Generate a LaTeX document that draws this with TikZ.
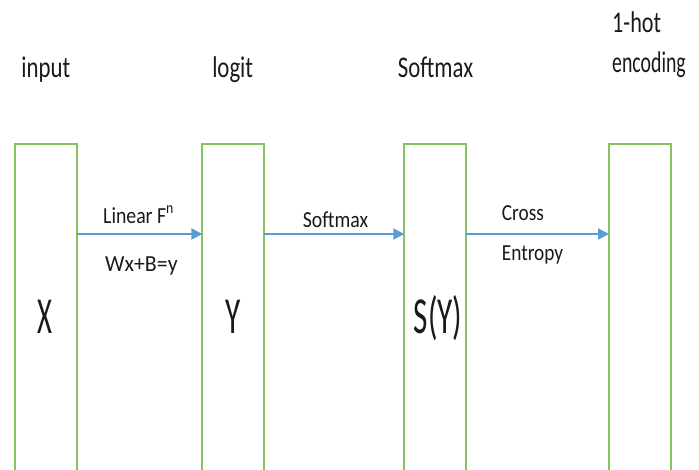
\documentclass[tikz,border=0pt]{standalone}
\usepackage{fontspec}
\setmainfont{Carlito}
\usetikzlibrary{arrows.meta}
\definecolor{boxgreen}{HTML}{84C262}
\definecolor{flowblue}{HTML}{5B9BD5}
\definecolor{ink}{HTML}{1A1A1A}
\newcommand\narrow[2]{\scalebox{#1}[1]{#2}}
\tikzset{
  stage/.style={draw=boxgreen, line width=2pt, minimum width=62pt,
    minimum height=340pt, inner sep=0pt, outer sep=0pt},
  flow/.style={draw=flowblue, line width=2pt,
    -{Triangle[length=11pt,width=11pt]}},
  head/.style={anchor=base, inner sep=0pt, text=ink,
    font=\fontsize{30}{36}\selectfont},
  headl/.style={head, anchor=base west},
  edgetxt/.style={anchor=base west, inner sep=0pt, text=ink,
    font=\fontsize{23}{28}\selectfont},
  symb/.style={anchor=base, inner sep=0pt, text=ink,
    font=\fontsize{52}{60}\selectfont},
}
\begin{document}
\begin{tikzpicture}[x=1pt, y=-1pt]
  \useasboundingbox (0,0) rectangle (699,469);
  \clip (0,0) rectangle (699,469);

  % stage columns (open towards the bottom edge)
  \node[stage] (b1) at (45.7,314) {};
  \node[stage] (b2) at (233.4,314) {};
  \node[stage] (b3) at (435.3,314) {};
  \node[stage] (b4) at (640,314) {};

  % flow arrows
  \coordinate (row) at (0,234);
  \draw[flow] (b1.east |- row) -- (b2.west |- row);
  \draw[flow] (b2.east |- row) -- (b3.west |- row);
  \draw[flow] (b3.east |- row) -- (b4.west |- row);

  % column headings
  \node[head] (h1) at (45.8,77) {\narrow{0.76}{input}};
  \node[head] (h2) at (232.7,77) {\narrow{0.76}{logit}};
  \node[head] (h3) at (435.5,77) {\narrow{0.76}{Softmax}};
  \node[headl] (h4a) at (612,32) {\narrow{0.74}{1-hot}};
  \node[headl] (h4b) at (612,72) {\narrow{0.66}{encoding}};

  % arrow labels
  \node[edgetxt] (l1) at (103,223) {\narrow{0.86}{Linear F\textsuperscript{n}}};
  \node[edgetxt] (l2) at (105,271.5) {\narrow{0.95}{Wx+B=y}};
  \node[edgetxt] (l3) at (302.7,227) {\narrow{0.86}{Softmax}};
  \node[edgetxt] (l4) at (501.7,220.7) {\narrow{0.84}{Cross}};
  \node[edgetxt] (l5) at (501.7,260.7) {\narrow{0.84}{Entropy}};

  % symbols inside the columns
  \node[symb] (s1) at (44.5,333) {\narrow{0.55}{X}};
  \node[symb] (s2) at (233,333) {\narrow{0.6}{Y}};
  \node[symb] (s3) at (438,333) {\narrow{0.6}{S(Y)}};
\end{tikzpicture}
\end{document}
